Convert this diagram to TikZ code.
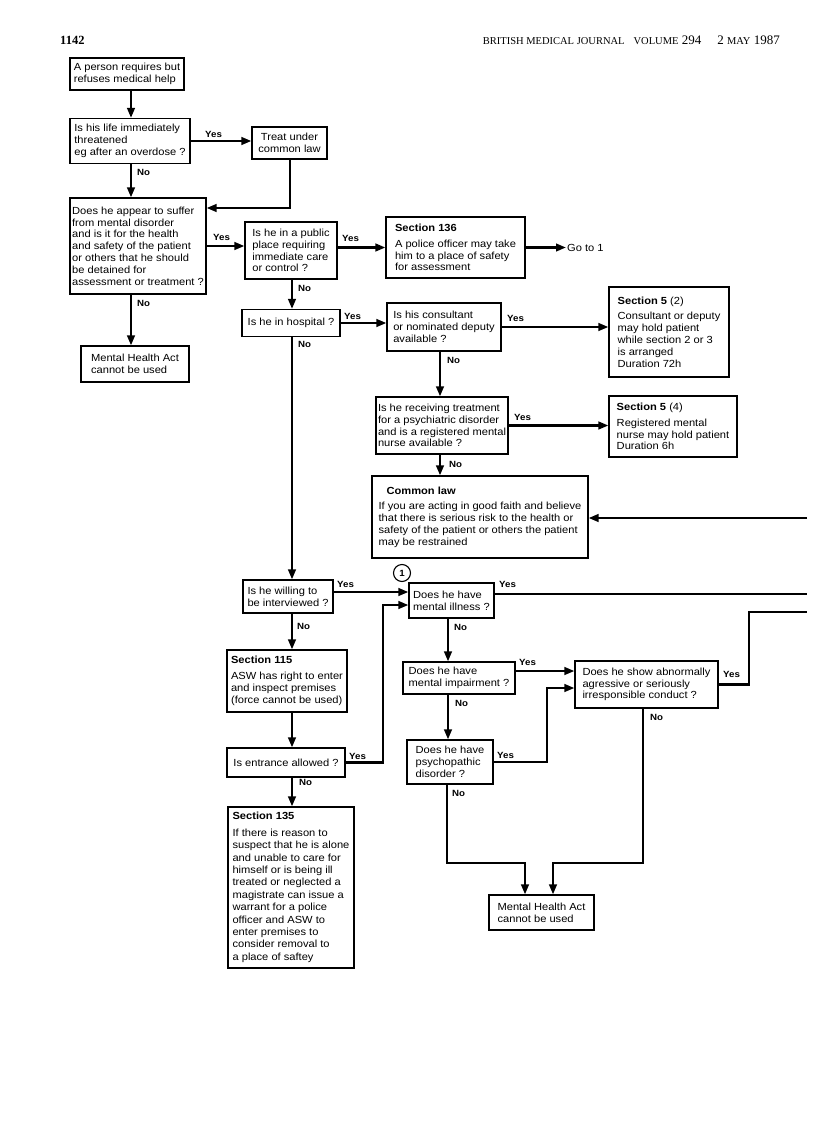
\documentclass[tikz,border=0pt]{standalone}
\usepackage{fontspec}
\setmainfont{Liberation Sans}[FakeStretch=1.08]
\newfontfamily\journalfont{Liberation Serif}
\usepackage{tikz}
\usetikzlibrary{positioning,arrows.meta}

\newcommand{\hdrsmall}[1]{{\fontsize{10.5}{12}\selectfont #1}}

\tikzset{
  box/.style={draw, line width=1.1pt, align=left, inner sep=2pt,
    font=\fontsize{10.3}{11.8}\selectfont},
  sz/.style 2 args={minimum width=#1, minimum height=#2},
  flow/.style={line width=2.4pt, -{Triangle[length=10pt,width=7.5pt]}},
  trunk/.style={line width=2.4pt},
  lbl/.style={font=\fontsize{9}{10}\selectfont\bfseries, inner sep=0pt},
}

\begin{document}
\begin{tikzpicture}[x=1pt,y=-1pt]
\useasboundingbox (0,0) rectangle (816,1121);

% running head
\node[anchor=base west, inner sep=0pt, font=\journalfont\bfseries\fontsize{12.5}{14}\selectfont] (page) at (60,45) {1142};
\node[anchor=base east, inner sep=0pt, font=\journalfont\fontsize{13}{14}\selectfont] (head) at (780,45)
  {\hdrsmall{BRITISH MEDICAL JOURNAL}\hspace{9pt}\hdrsmall{VOLUME} 294\hspace{16pt}2 \hdrsmall{MAY} 1987};

% trunk lines
\coordinate (xA) at (131,0);
\coordinate (xB) at (292,0);
\coordinate (xC) at (440,0);
\coordinate (xD) at (448,0);

% boxes
\node[box, sz={114}{32}] (start) at (127,74) {A person requires but\\refuses medical help};
\node[box, sz={120}{45}] (life) at (130,141) {Is his life immediately\\threatened\\eg after an overdose ?};
\node[box, sz={75}{32}, align=center] (treat) at (289.5,143) {Treat under\\common law};
\node[box, sz={136}{96}] (disorder) at (138,246) {Does he appear to suffer\\from mental disorder\\and is it for the health\\and safety of the patient\\or others that he should\\be detained for\\assessment or treatment ?};
\node[box, sz={92}{57}] (public) at (291,250.5) {Is he in a public\\place requiring\\immediate care\\or control ?};
\node[box, sz={139}{61}] (s136) at (455.5,247.5) {\textbf{Section 136}\\[4pt]A police officer may take\\him to a place of safety\\for assessment};
\node[anchor=west, inner sep=1pt, font=\fontsize{10.3}{11.8}\selectfont] (goto) at (566,247.5) {Go to 1};
\node[box, sz={98}{27}] (hospital) at (291,323) {Is he in hospital ?};
\node[box, sz={114}{48}] (consult) at (444,327) {Is his consultant\\or nominated deputy\\available ?};
\node[box, sz={120}{90}] (s52) at (669,332) {\textbf{Section 5} (2)\\[4pt]Consultant or deputy\\may hold patient\\while section 2 or 3\\is arranged\\Duration 72h};
\node[box, sz={108}{36}] (mha1) at (135,364) {Mental Health Act\\cannot be used};
\node[box, sz={130}{57}] (treatment) at (442,425.5) {Is he receiving treatment\\for a psychiatric disorder\\and is a registered mental\\nurse available ?};
\node[box, sz={128}{61}] (s54) at (673,426.5) {\textbf{Section 5} (4)\\[4pt]Registered mental\\nurse may hold patient\\Duration 6h};
\node[box, sz={216}{82}] (common) at (480,517) {\hspace*{8pt}\textbf{Common law}\\[4pt]If you are acting in good faith and believe\\that there is serious risk to the health or\\safety of the patient or others the patient\\may be restrained};
\node[draw, circle, line width=1.1pt, minimum size=17pt, inner sep=0pt, font=\fontsize{9}{10}\selectfont\bfseries] (one) at (402,573) {1};
\node[box, sz={90}{33}] (willing) at (288,596.5) {Is he willing to\\be interviewed ?};
\node[box, sz={85}{35}] (illness) at (451.5,600.5) {Does he have\\mental illness ?};
\node[box, sz={120}{62}] (s115) at (287,681) {\textbf{Section 115}\\[4pt]ASW has right to enter\\and inspect premises\\(force cannot be used)};
\node[box, sz={112}{32}] (impair) at (459,678) {Does he have\\mental impairment ?};
\node[box, sz={143}{47}] (abnormal) at (646.5,684.5) {Does he show abnormally\\agressive or seriously\\irresponsible conduct ?};
\node[box, sz={118}{29}] (entrance) at (286,762.5) {Is entrance allowed ?};
\node[box, sz={86}{44}] (psych) at (450,762) {Does he have\\psychopathic\\disorder ?};
\node[box, sz={126}{161}, font=\fontsize{10.3}{12.4}\selectfont] (s135) at (291,887.5) {\textbf{Section 135}\\[4pt]If there is reason to\\suspect that he is alone\\and unable to care for\\himself or is being ill\\treated or neglected a\\magistrate can issue a\\warrant for a police\\officer and ASW to\\enter premises to\\consider removal to\\a place of saftey};
\node[box, sz={105}{35}] (mha2) at (541.5,912.5) {Mental Health Act\\cannot be used};

% connectors
\coordinate (tc) at (290,208);
\coordinate (rc) at (807,518);
\coordinate (wy) at (0,592);
\coordinate (r1) at (807,594);
\coordinate (ex) at (383,605);
\coordinate (iy) at (0,671);
\coordinate (pa) at (547,688);
\coordinate (ar) at (749,612);
\coordinate (an) at (643,863);
\coordinate (pn) at (447,863);
\coordinate (m2r) at (553,0);
\coordinate (m2l) at (525,0);

\draw[flow] (start.south -| xA) -- (life.north -| xA);
\draw[flow] (life.east) -- (life.east -| treat.west);
\draw[flow] (life.south -| xA) -- (disorder.north -| xA);
\draw[flow] (treat.south -| tc) -- (tc) -- (tc -| disorder.east);
\draw[flow] (disorder.east) -- (disorder.east -| public.west);
\draw[flow] (disorder.south -| xA) -- (mha1.north -| xA);
\draw[flow] (s136.west -| public.east) -- (s136.west);
\draw[flow] (s136.east) -- (goto.west);
\draw[flow] (public.south -| xB) -- (hospital.north -| xB);
\draw[flow] (hospital.east) -- (hospital.east -| consult.west);
\draw[flow] (hospital.south -| xB) -- (willing.north -| xB);
\draw[flow] (consult.east) -- (consult.east -| s52.west);
\draw[flow] (consult.south -| xC) -- (treatment.north -| xC);
\draw[flow] (treatment.east) -- (treatment.east -| s54.west);
\draw[flow] (treatment.south -| xC) -- (common.north -| xC);
\draw[flow] (rc) -- (rc -| common.east);
\draw[flow] (willing.east |- wy) -- (illness.west |- wy);
\draw[flow] (willing.south -| xB) -- (s115.north -| xB);
\draw[trunk] (illness.east |- r1) -- (r1);
\draw[flow] (illness.south -| xD) -- (impair.north -| xD);
\draw[flow] (s115.south -| xB) -- (entrance.north -| xB);
\draw[flow] (entrance.east) -| (ex) -- (ex -| illness.west);
\draw[flow] (entrance.south -| xB) -- (s135.north -| xB);
\draw[flow] (impair.east |- iy) -- (abnormal.west |- iy);
\draw[flow] (impair.south -| xD) -- (psych.north -| xD);
\draw[flow] (psych.east) -| (pa) -- (pa -| abnormal.west);
\draw[trunk] (abnormal.east) -| (ar) -- (ar -| rc);
\draw[flow] (abnormal.south -| an) -- (an) -| (mha2.north -| m2r);
\draw[flow] (psych.south -| pn) -- (pn) -| (mha2.north -| m2l);

% yes / no
\node[lbl, anchor=west] (y1) at (205,134) {Yes};
\node[lbl, anchor=west] (n1) at (137,172) {No};
\node[lbl, anchor=west] (y2) at (213,237) {Yes};
\node[lbl, anchor=west] (n2) at (137,303) {No};
\node[lbl, anchor=west] (y3) at (342,238) {Yes};
\node[lbl, anchor=west] (n3) at (298,288) {No};
\node[lbl, anchor=west] (y4) at (344,316) {Yes};
\node[lbl, anchor=west] (n4) at (298,344) {No};
\node[lbl, anchor=west] (y5) at (507,318) {Yes};
\node[lbl, anchor=west] (n5) at (447,360) {No};
\node[lbl, anchor=west] (y6) at (514,417) {Yes};
\node[lbl, anchor=west] (n6) at (449,464) {No};
\node[lbl, anchor=west] (y7) at (337,584) {Yes};
\node[lbl, anchor=west] (n7) at (297,626) {No};
\node[lbl, anchor=west] (y8) at (499,584) {Yes};
\node[lbl, anchor=west] (n8) at (454,627) {No};
\node[lbl, anchor=west] (y9) at (349,756) {Yes};
\node[lbl, anchor=west] (n9) at (299,782) {No};
\node[lbl, anchor=west] (y10) at (519,662) {Yes};
\node[lbl, anchor=west] (n10) at (455,703) {No};
\node[lbl, anchor=west] (y11) at (497,755) {Yes};
\node[lbl, anchor=west] (n11) at (452,793) {No};
\node[lbl, anchor=west] (y12) at (723,674) {Yes};
\node[lbl, anchor=west] (n12) at (650,717) {No};
\end{tikzpicture}
\end{document}
